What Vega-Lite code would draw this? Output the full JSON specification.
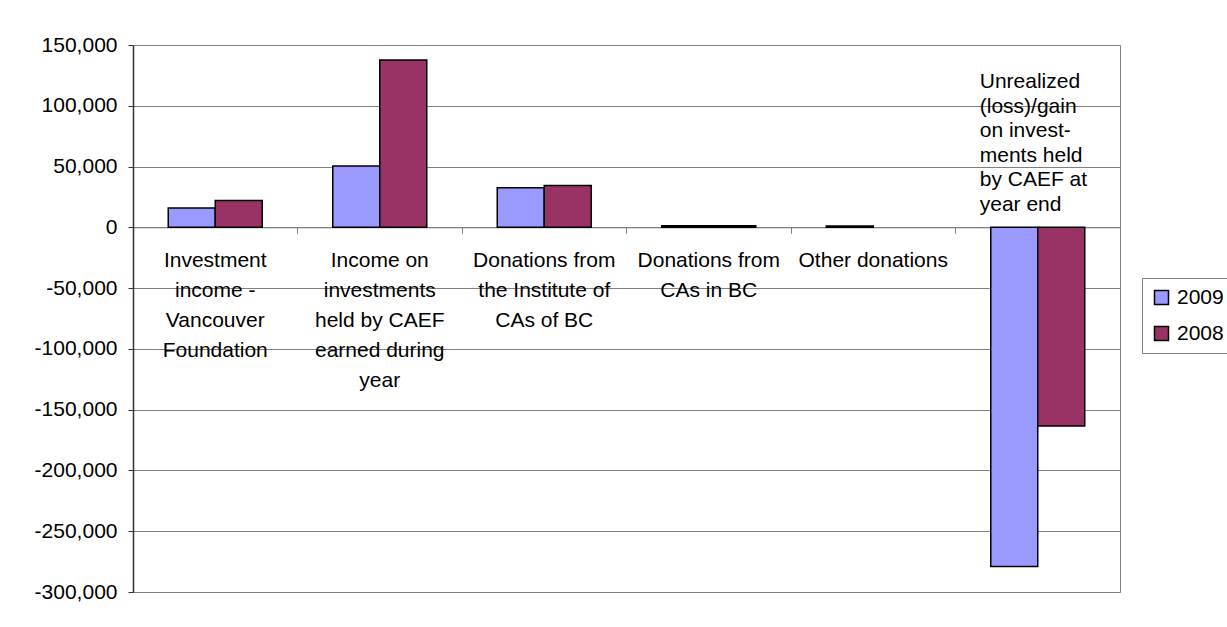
{
  "$schema": "https://vega.github.io/schema/vega-lite/v6.json",
  "width": 987,
  "height": 547,
  "autosize": "none",
  "padding": {"left": 133, "top": 45, "right": 107, "bottom": 35},
  "background": "white",
  "config": {
    "view": {"stroke": "#808080", "strokeWidth": 1},
    "font": "Liberation Sans",
    "text": {"lineBreak": "\n"}
  },
  "datasets": {
    "bars": [
      {"category": "Investment income - Vancouver Foundation", "year": "2009", "value": 16000},
      {"category": "Investment income - Vancouver Foundation", "year": "2008", "value": 22000},
      {"category": "Income on investments held by CAEF earned during year", "year": "2009", "value": 50400},
      {"category": "Income on investments held by CAEF earned during year", "year": "2008", "value": 137600},
      {"category": "Donations from the Institute of CAs of BC", "year": "2009", "value": 32500},
      {"category": "Donations from the Institute of CAs of BC", "year": "2008", "value": 34500},
      {"category": "Donations from CAs in BC", "year": "2009", "value": 1200},
      {"category": "Donations from CAs in BC", "year": "2008", "value": 1200},
      {"category": "Other donations", "year": "2009", "value": 1100},
      {"category": "Unrealized (loss)/gain on investments held by CAEF at year end", "year": "2009", "value": -279000},
      {"category": "Unrealized (loss)/gain on investments held by CAEF at year end", "year": "2008", "value": -163500}
    ],
    "labelsBelow": [
      {"category": "Investment income - Vancouver Foundation", "label": "Investment\nincome -\nVancouver\nFoundation"},
      {"category": "Income on investments held by CAEF earned during year", "label": "Income on\ninvestments\nheld by CAEF\nearned during\nyear"},
      {"category": "Donations from the Institute of CAs of BC", "label": "Donations from\nthe Institute of\nCAs of BC"},
      {"category": "Donations from CAs in BC", "label": "Donations from\nCAs in BC"},
      {"category": "Other donations", "label": "Other donations"}
    ],
    "labelsAbove": [
      {"category": "Unrealized (loss)/gain on investments held by CAEF at year end", "label": "Unrealized\n(loss)/gain\non invest-\nments held\nby CAEF at\nyear end"}
    ]
  },
  "layer": [
    {
      "data": {"name": "bars"},
      "mark": {"type": "bar", "stroke": "black", "strokeWidth": 1.5},
      "encoding": {
        "x": {
          "field": "category",
          "type": "nominal",
          "sort": null,
          "scale": {
            "domain": [
              "Investment income - Vancouver Foundation",
              "Income on investments held by CAEF earned during year",
              "Donations from the Institute of CAs of BC",
              "Donations from CAs in BC",
              "Other donations",
              "Unrealized (loss)/gain on investments held by CAEF at year end"
            ],
            "paddingInner": 0,
            "paddingOuter": 0
          },
          "axis": {
            "orient": "bottom",
            "offset": -364.7,
            "title": null,
            "labels": false,
            "bandPosition": 0,
            "tickSize": 6,
            "tickColor": "#808080",
            "domainColor": "#808080",
            "grid": false
          }
        },
        "xOffset": {
          "field": "year",
          "type": "nominal",
          "sort": ["2009", "2008"],
          "scale": {"domain": ["2009", "2008"], "paddingInner": 0, "paddingOuter": 0.75}
        },
        "y": {
          "field": "value",
          "type": "quantitative",
          "scale": {"domain": [-300000, 150000], "nice": false, "zero": false},
          "axis": {
            "title": null,
            "values": [-300000, -250000, -200000, -150000, -100000, -50000, 0, 50000, 100000, 150000],
            "labelExpr": "replace(format(datum.value, ','), '\u2212', '-')",
            "labelFontSize": 21,
            "labelColor": "black",
            "labelPadding": 11,
            "tickSize": 5,
            "tickColor": "#333333",
            "domainColor": "#333333",
            "domainWidth": 1.5,
            "grid": true,
            "gridColor": "#808080",
            "gridWidth": 1,
            "gridOpacity": 1
          }
        },
        "color": {
          "field": "year",
          "type": "nominal",
          "sort": ["2009", "2008"],
          "scale": {"domain": ["2009", "2008"], "range": ["#9999FF", "#993366"]},
          "legend": {
            "title": null,
            "orient": "none",
            "legendX": 1009,
            "legendY": 233,
            "strokeColor": "#808080",
            "fillColor": "white",
            "padding": 9,
            "symbolType": "square",
            "symbolSize": 196,
            "symbolStrokeColor": "black",
            "symbolStrokeWidth": 1.5,
            "symbolOpacity": 1,
            "labelFontSize": 21,
            "labelColor": "black",
            "labelOffset": 5,
            "rowPadding": 14
          }
        }
      }
    },
    {
      "data": {"name": "labelsBelow"},
      "mark": {"type": "text", "baseline": "top", "align": "center", "fontSize": 21, "lineHeight": 30, "dy": 23, "color": "black"},
      "encoding": {
        "x": {"field": "category", "type": "nominal", "sort": null},
        "y": {"datum": 0, "type": "quantitative"},
        "text": {"field": "label"}
      }
    },
    {
      "data": {"name": "labelsAbove"},
      "mark": {"type": "text", "baseline": "top", "align": "left", "fontSize": 21, "lineHeight": 24.5, "dx": -58, "dy": -156, "color": "black"},
      "encoding": {
        "x": {"field": "category", "type": "nominal", "sort": null},
        "y": {"datum": 0, "type": "quantitative"},
        "text": {"field": "label"}
      }
    }
  ]
}
